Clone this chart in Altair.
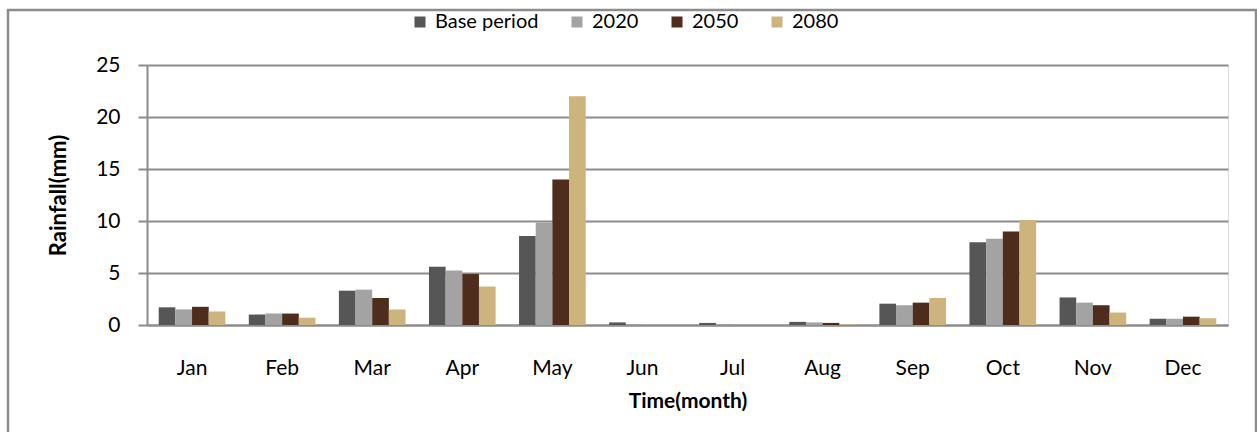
import altair as alt
import pandas as pd

months = ["Jan", "Feb", "Mar", "Apr", "May", "Jun", "Jul", "Aug", "Sep", "Oct", "Nov", "Dec"]
series = ["Base period", "2020", "2050", "2080"]
base_period = [1.7, 1.0, 3.3, 5.6, 8.55, 0.25, 0.2, 0.3, 2.05, 7.95, 2.65, 0.6]
y2020 = [1.5, 1.1, 3.4, 5.25, 9.85, 0.1, 0.1, 0.25, 1.9, 8.3, 2.15, 0.6]
y2050 = [1.75, 1.1, 2.6, 4.9, 14.0, 0.0, 0.0, 0.2, 2.15, 9.0, 1.9, 0.8]
y2080 = [1.3, 0.7, 1.5, 3.7, 22.0, 0.0, 0.0, 0.05, 2.6, 10.1, 1.2, 0.65]
colors = ["#565656", "#a3a3a3", "#4e2d1d", "#cdb47c"]

rows = []
for s, vals in zip(series, [base_period, y2020, y2050, y2080]):
    for m, v in zip(months, vals):
        rows.append({"Month": m, "Series": s, "Rainfall": v})
df = pd.DataFrame(rows)

FONT = "Lato"

bars = alt.Chart(df).mark_bar(stroke=None).encode(
    x=alt.X("Month:N", sort=months,
            scale=alt.Scale(paddingInner=0.26, paddingOuter=0.13),
            axis=alt.Axis(title="Time(month)", labelAngle=0, ticks=False,
                          labelPadding=32, titlePadding=12, labelFontSize=21,
                          titleFontSize=21, titleFontWeight="bold",
                          domainColor="#8c8c8c", domainWidth=2,
                          labelColor="#000", titleColor="#000")),
    xOffset=alt.XOffset("Series:N", sort=series),
    y=alt.Y("Rainfall:Q", scale=alt.Scale(domain=[0, 25]),
            axis=alt.Axis(title="Rainfall(mm)", values=[0, 5, 10, 15, 20, 25],
                          tickSize=9, tickColor="#8c8c8c", tickWidth=2,
                          domainColor="#8c8c8c", domainWidth=2,
                          gridColor="#8c8c8c", gridWidth=2,
                          labelPadding=18, labelFontSize=21, titleFontSize=22,
                          titleFontWeight="bold", titlePadding=25,
                          labelColor="#000", titleColor="#000")),
    color=alt.Color("Series:N", sort=series,
                    scale=alt.Scale(domain=series, range=colors),
                    legend=alt.Legend(title=None, orient="none", direction="horizontal",
                                      legendX=263, legendY=-53,
                                      symbolType="square", symbolSize=121,
                                      symbolStrokeWidth=0, labelFontSize=20,
                                      labelOffset=5, columnPadding=28,
                                      labelColor="#000")),
)

border = alt.Chart(pd.DataFrame({"a": [0]})).mark_rect(
    fill=None, stroke="#8c8c8c", strokeWidth=2.5
).encode(x=alt.value(-139), x2=alt.value(1109), y=alt.value(-55), y2=alt.value(380))

chart = alt.layer(border, bars).properties(
    width=1081, height=260,
    padding={"left": 147, "top": 65, "right": 29, "bottom": 107},
    autosize=alt.AutoSizeParams(type="none"),
).configure_view(strokeWidth=0).configure(font=FONT).configure_axis(labelFont=FONT, titleFont=FONT).configure_legend(labelFont=FONT)

chart.save("out.html", embed_options={"renderer": "svg", "actions": False})
